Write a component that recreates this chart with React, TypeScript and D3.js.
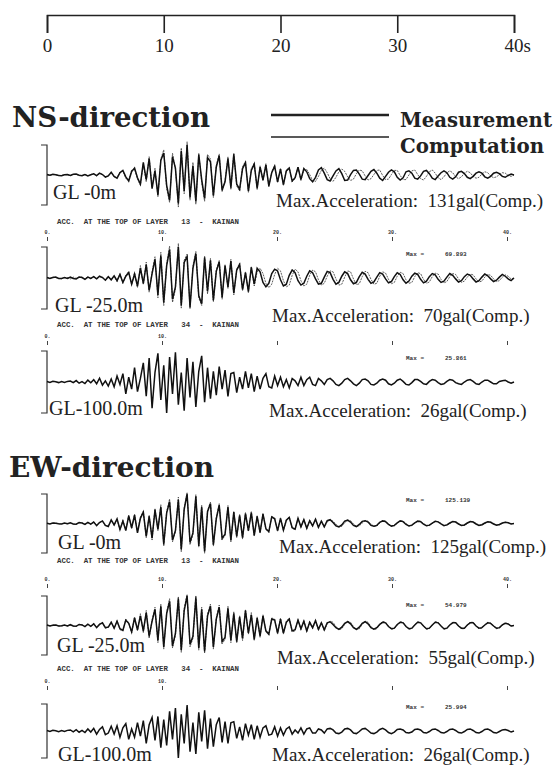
import React, { useEffect, useRef } from "react";
import * as d3 from "d3";

const W = 555;
const H = 766;
const timeTicks = [0, 10, 20, 30, 40];
const dt = 0.25; // step of the digitised peaks, seconds

// NS-direction, GL -0m (gal)
const nsGL0Measured = [
  2, -1, 3, 1, -2, -3, 1, 2,
  -2, 3, 4, -1, -3, 2, -4, 1,
  5, -3, 8, 2, -9, -4, 12, -6,
  -14, 10, 20, -8, -26, 15, 30, -12,
  -40, 55, -20, 72, -60, 18, -88, 64,
  96, -45, -110, 80, 30, -124, 105, -70,
  131, -98, 40, -115, 88, -20, -102, 76,
  58, -90, 35, 84, -66, -30, 72, -55,
  90, -40, -62, 28, 54, -70, 20, 48,
  -58, 35, -22, 44, -48, 10, 38, -30,
  26, -42, 18, 30, -26, -12, 34, -20,
  28, 14, -16, -30, -10, 22, 32, 8,
  -20, -26, -4, 18, 28, 6, -24, -22,
  2, 20, 22, 4, -18, -20, -2, 16,
  24, 8, -14, -24, -6, 12, 22, 14,
  -10, -22, -12, 14, 18, 8, -14, -18,
  -4, 16, 20, 6, -14, -20, -4, 10,
  18, 10, -10, -18, -8, 12, 16, 6,
  -10, -16, -6, 8, 14, 8, -8, -14,
  -6, 8, 12, 6, -6, -10, -2, 4,
  0,
];
const nsGL0Computed = [
  1, -2, 2, 1, -1, -2, 2, 1,
  -3, 2, 3, -2, -2, 3, -3, 2,
  6, -4, 7, 3, -10, -2, 10, -8,
  -12, 14, 18, -15, -20, 22, 26, -18,
  -45, 48, -30, 80, -52, 30, -95, 70,
  110, -60, -120, 95, 25, -140, 118, -82,
  145, -110, 55, -128, 96, -35, -115, 90,
  70, -98, 42, 92, -74, -22, 80, -64,
  96, -48, -70, 36, 60, -76, 28, 52,
  -64, 40, -26, 50, -52, 16, 42, -34,
  30, -46, 22, 34, -30, -16, 36, -24,
  22, 24, 2, -24, -28, -6, 20, 30,
  10, -16, -28, -10, 14, 26, 16, -8,
  -24, -18, 6, 22, 18, -4, -22, -16,
  2, 20, 22, -2, -20, -18, 2, 20,
  20, -2, -20, -20, 0, 18, 22, 2,
  -16, -22, -6, 14, 22, 8, -12, -20,
  -8, 10, 18, 10, -8, -16, -8, 8,
  16, 10, -6, -14, -10, 4, 14, 10,
  -4, -12, -8, 2, 10, 8, -2, -6,
  0,
];

// NS-direction, GL -25.0m (gal)
const nsGL25Measured = [
  1, -1, 1, 2, -1, -1, 1, -1,
  2, -1, -2, 2, 1, -3, 2, -1,
  3, -2, 4, 1, -5, 3, -4, 5,
  -6, 8, -10, 4, 12, -14, 9, -18,
  22, -12, 30, -28, 10, 42, -38, 50,
  -55, 28, 64, -48, -20, 70, -62, 35,
  48, -66, 22, 55, -40, -58, 46, -30,
  40, -50, 15, 36, -44, 28, -20, 38,
  -34, 18, 30, -26, 12, -30, 24, -14,
  22, 14, -10, -20, -12, 10, 20, 16,
  -4, -18, -14, 6, 18, 12, -6, -16,
  -12, 4, 16, 12, -2, -14, -12, 2,
  15, 12, -3, -14, -10, 4, 14, 10,
  -4, -13, -10, 3, 13, 9, -3, -12,
  -9, 2, 12, 9, -2, -11, -8, 3,
  12, 8, -4, -12, -7, 4, 11, 8,
  -3, -11, -7, 3, 10, 7, -3, -10,
  -7, 2, 10, 6, -2, -9, -6, 3,
  9, 6, -2, -9, -6, 2, 9, 5,
  -2, -8, -5, 2, 8, 4, -2, -6,
  0,
];
const nsGL25Computed = [
  1, -1, 2, 1, -1, -2, 1, 1,
  -2, 2, -1, 2, 2, -2, 3, -2,
  4, -3, 3, 2, -4, 4, -5, 4,
  -8, 10, -12, 6, 15, -16, 12, -22,
  28, -15, 36, -32, 14, 48, -45, 58,
  -62, 32, 72, -55, -25, 78, -68, 40,
  54, -70, 28, 60, -45, -62, 50, -36,
  44, -54, 18, 40, -48, 30, -24, 42,
  -38, 20, 34, -28, 14, -34, 26, -18,
  14, 22, 10, -12, -22, -14, 8, 22,
  16, -6, -20, -16, 6, 20, 14, -6,
  -18, -14, 6, 18, 14, -4, -16, -12,
  4, 16, 14, -2, -16, -14, 2, 16,
  14, -2, -15, -13, 3, 15, 12, -3,
  -14, -12, 4, 14, 11, -3, -13, -10,
  4, 13, 10, -4, -12, -10, 3, 12,
  10, -3, -12, -9, 3, 11, 9, -3,
  -11, -8, 3, 10, 8, -2, -10, -7,
  2, 9, 7, -2, -9, -7, 2, 8,
  6, -2, -8, -6, 2, 7, 4, -2,
  0,
];

// NS-direction, GL-100.0m (gal)
const nsGL100Measured = [
  0.4, -0.3, 0.6, 0.2, -0.5, 0.3, -0.4, 0.5,
  0.8, -0.5, 1.2, -1, 0.4, -1.3, 1.6, -0.6,
  2, -1.5, 3.2, -2.6, 1, -3.4, 2.5, -4,
  5, -2, 7, -10, 4, -6, 12, -8,
  3, 16, -12, 20, -22, 8, 24, -15,
  14, -26, 21, -10, 25, -19, 8, -24,
  20, -13, 17, -21, 9, 22, -17, 12,
  -14, 9, -11, 13, -6, 10, -12, 7,
  8, -9, 4, -6, 9, -5, 7, -8,
  5, -6, 3, 7, -4, -5, 5, -3,
  4, -4, 2, -5, 3, 1, -3, 4,
  -3, 2, 4, -2, -3, 3, 1, -2,
  2, 3, 1, -2, -3, -1, 2, 3,
  1, -1.5, -3, -1, 2, 2.5, 1, -2,
  -2.5, -1, 1.5, 2.5, 1.5, -1.5, -2.5, -1,
  1.5, 2.5, 0.5, -2, -2.5, -0.5, 2, 2,
  0.5, -1.5, -2, 0.5, 2, 1.5, -0.5, -2,
  -1.5, 0.5, 2, 1.5, -0.5, -1.5, -2, 0,
  1.5, 2, 0.5, -1.5, -2, 0, 1.5, 1.5,
  0, -1.5, -1.5, 0.5, 1, 1.5, 0, -1,
  0,
];

// EW-direction, GL -0m (gal)
const ewGL0Measured = [
  1, -2, 2, 1, -1, -2, 2, -1,
  3, -2, -3, 4, 2, -4, 5, -3,
  6, -9, 4, 11, -8, -13, 15, -6,
  20, -25, 10, -30, 32, -18, 35, -40,
  22, 48, -55, 30, -62, 58, -25, 70,
  -88, 45, 92, -70, -30, 100, -110, 60,
  125, -80, -40, 115, -95, 70, -118, 50,
  85, -90, 20, 78, -62, -45, 70, -72,
  48, -55, 35, -60, 42, -30, 46, -50,
  30, -38, 40, -22, -34, 28, 20, -30,
  22, -28, 14, 26, -18, -24, 22, -14,
  16, -20, 12, -10, 18, -16, 10, -14,
  12, 16, 4, -10, -14, -6, 10, 14,
  6, -8, -13, -4, 9, 12, 6, -8,
  -12, -8, 5, 11, 8, -4, -11, -8,
  3, 11, 8, -4, -10, -7, 3, 10,
  8, -3, -9, -7, 2, 9, 7, -2,
  -9, -6, 2, 8, 6, -2, -8, -6,
  2, 8, 6, -2, -8, -5, 2, 7,
  5, -2, -7, -4, 2, 5, 3, -2,
  0,
];
const ewGL0Computed = [
  1, -1, 2, 2, -2, -1, 1, -2,
  2, -3, -2, 3, 3, -4, 4, -4,
  8, -7, 5, 10, -10, -11, 13, -9,
  18, -28, 14, -26, 36, -22, 40, -36,
  28, 52, -60, 36, -70, 64, -30, 80,
  -96, 50, 104, -78, -36, 112, -120, 66,
  130, -90, -46, 122, -100, 78, -126, 56,
  90, -96, 26, 84, -70, -50, 76, -78,
  52, -60, 38, -66, 46, -34, 50, -54,
  34, -42, 44, -26, -38, 30, 24, -34,
  24, -30, 16, 28, -20, -26, 24, -16,
  18, -22, 14, -12, 20, -18, 12, -16,
  8, 14, 10, -4, -14, -12, 4, 14,
  12, -2, -12, -10, 2, 12, 10, -2,
  -12, -11, 2, 12, 11, -2, -11, -10,
  0, 11, 10, 0, -10, -9, 1, 10,
  10, 0, -9, -9, 0, 9, 8, 0,
  -8, -8, 0, 8, 8, 0, -8, -8,
  0, 7, 8, 0, -7, -7, 0, 7,
  7, 0, -6, -6, 0, 5, 4, -1,
  0,
];

// EW-direction, GL -25.0m (gal)
const ewGL25Measured = [
  1, -1, 0.5, 1, -1, -0.5, 1, -1,
  1.5, -1, -1.5, 2, 1, -2, 2.5, -1.5,
  3, -4, 2, 5, -4, -3, 6, -5,
  8, -6, -9, 10, 4, -12, 14, -8,
  18, -10, 24, -20, 8, 30, -28, 36,
  -40, 22, 45, -38, -15, 50, -46, 28,
  55, -35, -20, 52, -42, 30, -48, 18,
  36, -40, 12, 34, -30, -22, 32, -28,
  22, -30, 16, -24, 28, -14, 20, -26,
  14, -20, 18, -10, -16, 12, 10, -14,
  12, -14, 6, 12, -10, -8, 10, -6,
  8, -10, 6, -4, 9, -7, 5, -8,
  5, 7, 2, -4, -7, -3, 4, 7,
  3, -4, -7, -3, 4, 7, 3, -4,
  -7, -4, 2, 6, 5, -2, -6, -5,
  2, 6, 5, -2, -6, -5, 1, 6,
  5, -1, -6, -5, 1, 6, 5, -1,
  -6, -5, 1, 5, 5, -1, -5, -5,
  1, 5, 5, -1, -5, -4, 1, 5,
  4, -1, -5, -4, 1, 4, 3, -1,
  0,
];
const ewGL25Computed = [
  1, -1, 1, 1, -1, -1, 0.5, -1,
  1, -1.5, -1, 2, 1.5, -2, 2, -2,
  4, -3, 3, 4, -5, -3, 7, -6,
  10, -8, -10, 12, 5, -14, 16, -10,
  22, -14, 28, -24, 10, 34, -32, 40,
  -44, 26, 50, -42, -18, 54, -50, 32,
  58, -40, -24, 56, -46, 34, -52, 22,
  40, -44, 14, 38, -34, -26, 36, -32,
  26, -32, 18, -28, 30, -16, 24, -28,
  16, -22, 20, -12, -18, 14, 12, -16,
  14, -16, 8, 14, -12, -10, 12, -8,
  10, -12, 8, -6, 10, -9, 6, -10,
  3, 8, 6, -2, -8, -6, 2, 8,
  6, -2, -8, -6, 2, 8, 6, -2,
  -8, -6, 2, 8, 6, -2, -7, -6,
  1, 7, 6, -1, -7, -6, 1, 7,
  6, -1, -7, -6, 1, 7, 6, -1,
  -7, -6, 1, 6, 6, -1, -6, -6,
  1, 6, 6, -1, -6, -5, 1, 6,
  5, -1, -6, -5, 1, 5, 3, -1,
  0,
];

// EW-direction, GL-100.0m (gal)
const ewGL100Measured = [
  0.4, -0.5, 0.6, 0.3, -0.6, 0.4, -0.5, 0.6,
  1, -0.8, 1.3, -1.2, 0.6, -1.5, 2, -1,
  2.5, -3, 1.5, 4, -3.5, -2, 4.5, -3,
  5, -6, 3, 7, -8, 2, -6, 8,
  -5, 10, -12, 6, 13, -9, 14, -16,
  11, -14, 19, -8, 22, -26, 16, -12,
  25, -20, 8, -22, 18, -10, 20, -17,
  12, -15, 6, 13, -11, 9, -12, 8,
  9, -7, 4, -9, 7, -4, 6, -8,
  5, -6, 3, 5, -4, -3, 4, -5,
  3, -4, 2, 4, -3, 1, -2, 3,
  -3, 2, 3, -2, -2, 2, 1, -2,
  2, 2.5, 1, -2, -2.5, -1, 2, 2.5,
  1, -2, -2.5, -0.5, 2, 2.5, 0.5, -2,
  -2.5, -1, 1.5, 2.5, 1, -1.5, -2.5, -1,
  1.5, 2, 1, -1.5, -2, -1, 1.5, 2,
  1, -1.5, -2, -0.5, 1.5, 2, 0.5, -1.5,
  -2, -0.5, 1.5, 2, 0.5, -1.5, -2, -0.5,
  1.5, 2, 0.5, -1.5, -2, -0.5, 1.5, 2,
  0.5, -1.5, -2, -0.5, 1, 1.5, 0.5, -1,
  0,
];

const depthLabels = ["GL -0m", "GL -25.0m", "GL-100.0m", "GL -0m", "GL -25.0m", "GL-100.0m"];
const maxComp = [131, 70, 26, 125, 55, 26];
const maxPrinted = ["", "69.893", "25.861", "125.139", "54.979", "25.994"];
const captionLayers = ["", "13", "34", "", "13", "34"];
const measuredSeries = [nsGL0Measured, nsGL25Measured, nsGL100Measured, ewGL0Measured, ewGL25Measured, ewGL100Measured];
const computedSeries = [nsGL0Computed, nsGL25Computed, null, ewGL0Computed, ewGL25Computed, null];

// layout of each trace block
const boxes = [
  { top: 145, base: 174, bottom: 205, lx: 53, ly: 199, ax: 276, ay: 207, capY: 0, tickY: 0, maxY: 0, allTicks: true },
  { top: 247, base: 278, bottom: 309, lx: 55, ly: 312, ax: 272, ay: 322, capY: 224, tickY: 241, maxY: 256, allTicks: true },
  { top: 351, base: 382, bottom: 413, lx: 49, ly: 415, ax: 269, ay: 417, capY: 327, tickY: 345, maxY: 360, allTicks: false },
  { top: 494, base: 525, bottom: 553, lx: 58, ly: 549, ax: 279, ay: 553, capY: 0, tickY: 0, maxY: 502, allTicks: true },
  { top: 596, base: 626, bottom: 655, lx: 57, ly: 652, ax: 277, ay: 664, capY: 563, tickY: 588, maxY: 607, allTicks: true },
  { top: 704, base: 730, bottom: 758, lx: 58, ly: 761, ax: 272, ay: 761, capY: 671, tickY: 690, maxY: 709, allTicks: false },
];

const serif = "'Liberation Serif', 'Times New Roman', serif";
const boldSerif = "'DejaVu Serif', serif";
const mono = "'Liberation Mono', monospace";

export default function App() {
  const svgRef = useRef<SVGSVGElement>(null);

  useEffect(() => {
    const svg = d3.select(svgRef.current);
    svg.selectAll("*").remove();

    const x = d3.scaleLinear().domain([0, 40]).range([47, 514]);
    const xSmall = d3.scaleLinear().domain([0, 40]).range([47, 507]);

    // top time axis
    const axis = svg.append("g")
      .attr("transform", "translate(0,15)")
      .call(d3.axisBottom(x).tickValues(timeTicks).tickSize(18).tickSizeOuter(18).tickPadding(6)
        .tickFormat((d) => (d === 40 ? "40s" : String(d))));
    axis.selectAll("path, line").attr("stroke", "#222").attr("stroke-width", 1.6);
    axis.selectAll("text").attr("font-family", serif).attr("font-size", 19).attr("fill", "#222");
    axis.selectAll("text").filter((d) => d === 40).attr("text-anchor", "start").attr("x", -10);

    // section titles
    svg.append("text").attr("x", 12).attr("y", 127).text("NS-direction")
      .attr("font-family", boldSerif).attr("font-weight", "bold").attr("font-size", 27)
      .attr("textLength", 198).attr("lengthAdjust", "spacingAndGlyphs").attr("fill", "#222");
    svg.append("text").attr("x", 9).attr("y", 477).text("EW-direction")
      .attr("font-family", boldSerif).attr("font-weight", "bold").attr("font-size", 27)
      .attr("textLength", 205).attr("lengthAdjust", "spacingAndGlyphs").attr("fill", "#222");

    // legend
    const legend = [
      { label: "Measurement", y: 115, w: 2.6, ty: 127, tl: 152 },
      { label: "Computation", y: 137, w: 1.3, ty: 153, tl: 144 },
    ];
    legend.forEach((l) => {
      svg.append("line").attr("x1", 271).attr("x2", 389).attr("y1", l.y).attr("y2", l.y)
        .attr("stroke", "#222").attr("stroke-width", l.w);
      svg.append("text").attr("x", 400).attr("y", l.ty).text(l.label)
        .attr("font-family", boldSerif).attr("font-weight", "bold").attr("font-size", 20)
        .attr("textLength", l.tl).attr("lengthAdjust", "spacingAndGlyphs").attr("fill", "#222");
    });

    boxes.forEach((b, i) => {
      const y = d3.scaleLinear().domain([-maxComp[i], maxComp[i]]).range([b.bottom, b.top]);
      const line = d3.line<number>().x((_, k) => x(k * dt)).y((d) => y(d));
      const g = svg.append("g");

      // bracket
      g.append("path")
        .attr("d", `M${x(0) - 6},${b.top}H${x(0)}V${b.bottom}H${x(0) - 6}`)
        .attr("fill", "none").attr("stroke", "#333").attr("stroke-width", 1.2);

      const comp = computedSeries[i];
      if (comp) {
        g.append("path").attr("d", line(comp)).attr("fill", "none")
          .attr("stroke", "#333").attr("stroke-width", 0.8).attr("stroke-dasharray", "2,1");
      }
      g.append("path").attr("d", line(measuredSeries[i])).attr("fill", "none")
        .attr("stroke", "#111").attr("stroke-width", 1.5);

      g.append("text").attr("x", b.lx).attr("y", b.ly).text(depthLabels[i])
        .attr("font-family", serif).attr("font-size", 20).attr("fill", "#222");
      g.append("text").attr("x", b.ax).attr("y", b.ay)
        .text(`Max.Acceleration:\u00a0 ${maxComp[i]}gal(Comp.)`)
        .attr("font-family", serif).attr("font-size", 19).attr("fill", "#222");

      if (maxPrinted[i]) {
        g.append("text").attr("x", 406).attr("y", b.maxY).text("Max =")
          .attr("font-family", mono).attr("font-weight", "bold").attr("font-size", 6).attr("fill", "#333");
        g.append("text").attr("x", 445).attr("y", b.maxY).text(maxPrinted[i])
          .attr("font-family", mono).attr("font-weight", "bold").attr("font-size", 6).attr("fill", "#333");
      }

      if (captionLayers[i]) {
        g.append("text").attr("x", 57).attr("y", b.capY)
          .text(`ACC.\u00a0 AT THE TOP OF LAYER\u00a0\u00a0 ${captionLayers[i]}\u00a0 -\u00a0 KAINAN`)
          .attr("font-family", mono).attr("font-weight", "bold").attr("font-size", 7)
          .attr("textLength", 182).attr("lengthAdjust", "spacingAndGlyphs").attr("fill", "#333");

        const small = g.append("g").attr("transform", `translate(0,${b.tickY})`)
          .call(d3.axisTop(xSmall).tickValues(timeTicks).tickSize(4).tickPadding(3)
            .tickFormat((d) => (b.allTicks || (d as number) <= 10 ? `${d}.` : "")));
        small.select(".domain").remove();
        small.selectAll("line").attr("stroke", "#444").attr("stroke-width", 1);
        small.selectAll("text").attr("font-family", mono).attr("font-weight", "bold")
          .attr("font-size", 5).attr("fill", "#333");
      }
    });
  }, []);

  return (
    <svg ref={svgRef} width={W} height={H}
      style={{ position: "absolute", left: 0, top: 0, background: "#fff" }} />
  );
}
